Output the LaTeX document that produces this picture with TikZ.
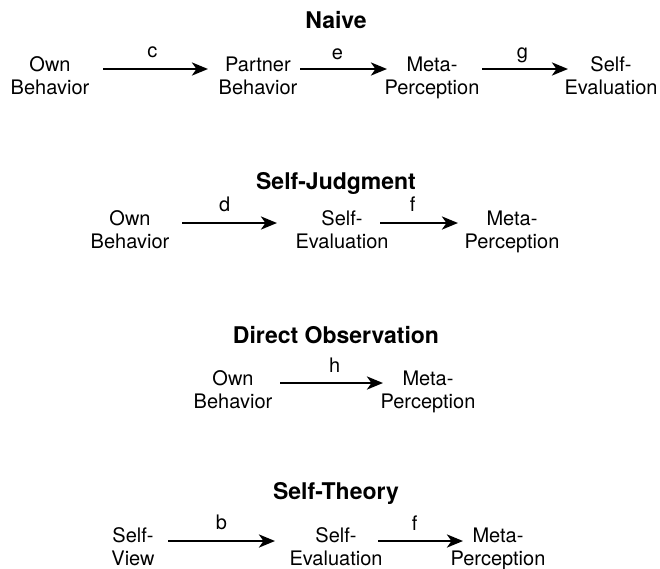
\documentclass[tikz,border=0pt]{standalone}
\usepackage{fontspec}
\setmainfont{TeX Gyre Heros}
\usetikzlibrary{arrows.meta}
\newcommand\twolines[2]{\begin{tabular}[t]{@{}c@{}}#1\\#2\end{tabular}}
\begin{document}
\begin{tikzpicture}[x=1pt,y=-1pt,
  box/.style={anchor=base, inner sep=0pt, font=\fontsize{20}{23}\selectfont},
  heading/.style={anchor=base, inner sep=0pt, font=\fontsize{23}{27}\selectfont\bfseries},
  link/.style={line width=2.8pt, -{Stealth[length=16pt,width=13pt,inset=4.5pt]}},
  tag/.style={anchor=base, inner sep=0pt, font=\fontsize{20}{23}\selectfont}]
\useasboundingbox (0,0) rectangle (660,568);

% Naive model
\node[heading] (t1) at (336,28) {Naive};
\node[box] (ob1) at (50,71)  {\twolines{Own}{Behavior}};
\node[box] (pb1) at (258,71) {\twolines{Partner}{Behavior}};
\node[box] (mp1) at (432,71) {\twolines{Meta-}{Perception}};
\node[box] (se1) at (611,71) {\twolines{Self-}{Evaluation}};
\draw[link] ([shift={(53,-2)}]ob1.base) -- node[tag, pos=.47, yshift=12pt] {c} ([shift={(-50,-2)}]pb1.base);
\draw[link] ([shift={(42,-2)}]pb1.base) -- node[tag, pos=.43, yshift=10pt] {e} ([shift={(-45,-2)}]mp1.base);
\draw[link] ([shift={(50,-2)}]mp1.base) -- node[tag, pos=.47, yshift=11pt] {g} ([shift={(-43,-2)}]se1.base);

% Self-judgment model
\node[heading] (t2) at (336,189) {Self-Judgment};
\node[box] (ob2) at (130,225) {\twolines{Own}{Behavior}};
\node[box] (se2) at (342,225) {\twolines{Self-}{Evaluation}};
\node[box] (mp2) at (512,225) {\twolines{Meta-}{Perception}};
\draw[link] ([shift={(52,-2)}]ob2.base) -- node[tag, pos=.45, yshift=12pt] {d} ([shift={(-65,-2)}]se2.base);
\draw[link] ([shift={(38,-2)}]se2.base) -- node[tag, pos=.42, yshift=12pt] {f} ([shift={(-54,-2)}]mp2.base);

% Direct observation model
\node[heading] (t3) at (336,343) {Direct Observation};
\node[box] (ob3) at (233,385) {\twolines{Own}{Behavior}};
\node[box] (mp3) at (428,385) {\twolines{Meta-}{Perception}};
\draw[link] ([shift={(47,-2)}]ob3.base) -- node[tag, pos=.53, yshift=11pt] {h} ([shift={(-45,-2)}]mp3.base);

% Self-theory model
\node[heading] (t4) at (336,499) {Self-Theory};
\node[box] (sv4) at (133,542) {\twolines{Self-}{View}};
\node[box] (se4) at (336,542) {\twolines{Self-}{Evaluation}};
\node[box] (mp4) at (498,542) {\twolines{Meta-}{Perception}};
\draw[link] ([shift={(35,-1)}]sv4.base) -- node[tag, pos=.5, yshift=12pt] {b} ([shift={(-61,-1)}]se4.base);
\draw[link] ([shift={(42,-1)}]se4.base) -- node[tag, pos=.43, yshift=11pt] {f} ([shift={(-35,-1)}]mp4.base);
\end{tikzpicture}
\end{document}
